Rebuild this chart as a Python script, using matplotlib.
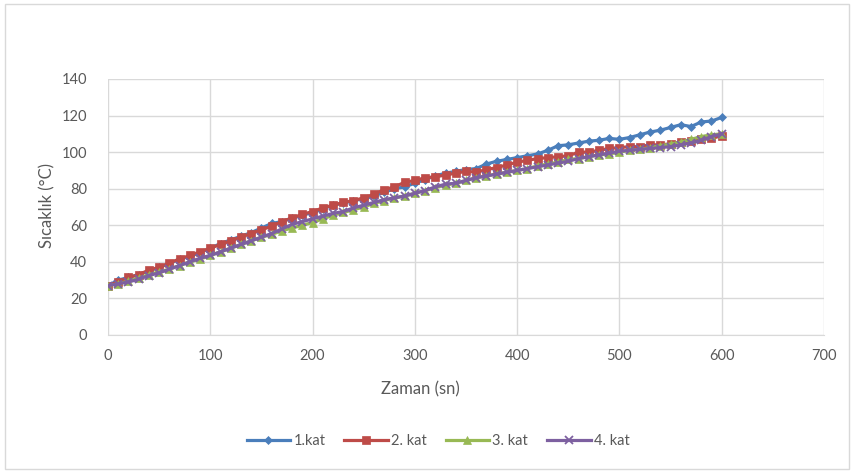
import matplotlib
matplotlib.use("Agg")
import matplotlib.pyplot as plt
from matplotlib.patches import Rectangle

plt.rcParams['font.family'] = ['Lato', 'DejaVu Sans']

time_s = list(range(0, 601, 10))

kat1 = [27, 30, 31.5, 33, 35, 37, 39, 41.5, 43, 45, 47.5, 50, 52, 54, 56, 58.5, 61, 62, 64, 65.5,
        67, 69, 71, 72, 73.5, 74.5, 76, 78, 80, 81, 83, 85, 87, 88.5, 89.5, 90.5, 91, 93.5, 95, 96,
        97, 98, 99, 101, 103.5, 104, 105, 106, 106.5, 107.5, 107, 108, 109.5, 111, 112, 113.5, 115,
        114, 116.5, 117, 119]
kat2 = [27, 29, 31.5, 33, 35.5, 37, 39.5, 41.5, 43.5, 45.5, 47.5, 49.5, 51.5, 53.5, 55.5, 57.5,
        59.5, 62, 64, 66, 67.5, 69.5, 71, 72.5, 73.5, 75, 77, 79.5, 81, 83.5, 84.5, 86, 86.5, 87.5,
        88.5, 89.5, 89, 90.5, 91.5, 93, 94.5, 95.5, 96.5, 97, 97.5, 98, 100, 100, 101, 102, 102.5,
        103, 103, 104, 104, 104.5, 105.5, 106, 107, 107.5, 109]
kat3 = [27, 28, 29.5, 31, 33, 34.5, 36, 38, 40, 41.5, 43.5, 45.5, 47.5, 49.5, 51.5, 53.5, 55, 57,
        58.5, 60, 61.5, 63.5, 65.5, 67, 68.5, 70, 72, 73.5, 75, 76, 77.5, 79, 80.5, 82, 83, 84.5,
        86, 87, 88, 89, 90, 91, 92.5, 93.5, 94.5, 96, 96.5, 97.5, 98.5, 99, 100, 101, 101.5, 102.5,
        103.5, 104.5, 105.5, 107, 108.5, 109.5, 110]
kat4 = [27, 28, 29, 30.5, 32.5, 34, 36, 38, 40, 42, 43.5, 45.5, 47.5, 49.5, 51.5, 53.5, 55.5, 58,
        60.5, 62, 63.5, 65, 66.5, 67.5, 69.5, 71, 72.5, 74, 75, 76, 77.5, 79, 81, 82.5, 83, 84.5,
        86, 87, 88, 89, 90, 91, 92, 93, 94, 95, 96.5, 97.5, 98.5, 99.5, 100.5, 101, 101.5, 102,
        102.5, 103, 104, 105, 106.5, 108.5, 110]

series_labels = ["1.kat", "2. kat", "3. kat", "4. kat"]
colors = ["#4A7EBB", "#BE4B48", "#98B954", "#7D60A0"]
markers = ["D", "s", "^", "x"]
msizes = [4.5, 5.5, 5.5, 5.5]

x_ticks = list(range(0, 701, 100))
y_ticks = list(range(0, 141, 20))

fig = plt.figure(figsize=(8.53, 4.72), dpi=100)
fig.patch.set_facecolor("white")
# chart frame
fig.add_artist(Rectangle((5 / 853, 3 / 472), 844 / 853, 465 / 472, transform=fig.transFigure,
                         fill=False, edgecolor="#D9D9D9", linewidth=1.0))

ax = fig.add_axes([108 / 853, (472 - 335) / 472, (824 - 108) / 853, (335 - 79) / 472])

for y, lab, c, m, ms in zip([kat1, kat2, kat3, kat4], series_labels, colors, markers, msizes):
    ax.plot(time_s, y, color=c, marker=m, markersize=ms, linewidth=2.3, label=lab,
            markeredgewidth=1.3 if m == "x" else 0.5, markeredgecolor=c, markerfacecolor=c)

ax.set_xlim(0, 700)
ax.set_ylim(0, 140)
ax.set_xticks(x_ticks)
ax.set_yticks(y_ticks)
ax.grid(True, color="#D9D9D9", linewidth=1.0)
ax.set_axisbelow(True)
for side in ["top", "right", "left"]:
    ax.spines[side].set_visible(False)
ax.spines["bottom"].set_color("#D9D9D9")
ax.tick_params(length=0, colors="#595959", labelsize=10.5, pad=10)
ax.tick_params(axis="y", pad=15)

# axis titles
fig.text(420 / 853, 1 - 389 / 472, "Zaman (sn)", fontsize=12, color="#595959",
         ha="center", va="center")
fig.text(47 / 853, 1 - 205 / 472, "Sıcaklık (°C)", fontsize=12, color="#595959",
         ha="center", va="center", rotation=90)

leg = fig.legend(loc="center", bbox_to_anchor=(438 / 853, (472 - 441) / 472), ncol=4,
                 frameon=False, fontsize=10.5, handlelength=3.0, columnspacing=1.3,
                 handletextpad=0.2)
for t in leg.get_texts():
    t.set_color("#595959")

fig.savefig("out.png", dpi=100)
